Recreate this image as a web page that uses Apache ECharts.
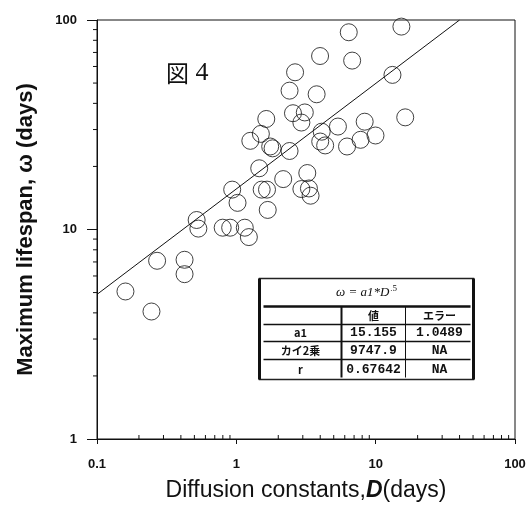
<!DOCTYPE html>
<html>
<head>
<meta charset="utf-8">
<script src="https://cdn.jsdelivr.net/npm/echarts@6/dist/echarts.min.js"></script>
<style>
html, body { margin: 0; padding: 0; background: #fff; }
#chart { width: 529px; height: 507px; }
</style>
</head>
<body>
<div id="chart"></div>
<script>
// 散布データ (D, ω)
var diffusionD = [0.16, 0.246, 0.27, 0.425, 0.425, 0.519, 0.534, 0.798, 0.903, 0.934, 1.02, 1.15,
    1.23, 1.26, 1.46, 1.50, 1.52, 1.66, 1.64, 1.68, 1.75, 1.82, 2.17, 2.41, 2.41, 2.55, 2.64,
    2.93, 2.93, 3.10, 3.23, 3.32, 3.41, 3.77, 3.99, 4.10, 4.0, 4.34, 5.36, 6.23, 6.41, 6.78,
    7.79, 8.34, 9.97, 13.2, 15.3, 16.3];
var lifespan = [5.06, 4.06, 7.09, 7.17, 6.12, 11.1, 10.1, 10.2, 10.2, 15.5, 13.4, 10.2,
    9.2, 26.5, 19.6, 28.6, 15.5, 15.5, 33.7, 12.4, 24.9, 24.4, 17.4, 46, 23.7, 35.9, 56.3,
    32.4, 15.6, 36.2, 18.6, 15.7, 14.5, 44.2, 67.3, 29.3, 26.3, 25.2, 31, 24.9, 87.4, 64,
    26.8, 32.7, 28.1, 54.7, 93, 34.3];

// フィット直線の端点
var fitD = [0.1, 40];
var fitW = [4.9, 100];

// 補助目盛
var xMinor = [0.2, 0.3, 0.4, 0.5, 0.6, 0.7, 0.8, 0.9, 2, 3, 4, 5, 6, 7, 8, 9, 20, 30, 40, 50, 60, 70, 80, 90];
var yMinor = [2, 3, 4, 5, 6, 7, 8, 9, 20, 30, 40, 50, 60, 70, 80, 90];

// 表の中身
var tableTitle = 'ω = a1*D';
var tableHead = ['', '値', 'エラー'];
var tableRows = [
    ['a1', '15.155', '1.0489'],
    ['カイ2乗', '9747.9', 'NA'],
    ['r', '0.67642', 'NA']
];

var chart = echarts.init(document.getElementById('chart'));

var scatterData = [];
for (let i = 0; i < diffusionD.length; i++) {
    scatterData.push([diffusionD[i], lifespan[i]]);
}
var fitData = [];
for (let i = 0; i < fitD.length; i++) {
    fitData.push([fitD[i], fitW[i]]);
}

// 表のgraphic
var colX = [41, 114, 180];
var rowY = [37, 54.5, 72, 91];
var tableChildren = [
    { type: 'rect', shape: { x: 0, y: 0, width: 214, height: 101 }, style: { fill: '#fff', stroke: '#222', lineWidth: 1.5 } },
    { type: 'line', shape: { x1: 0, y1: 0, x2: 0, y2: 101 }, style: { stroke: '#111', lineWidth: 3 } },
    { type: 'line', shape: { x1: 214, y1: 0, x2: 214, y2: 101 }, style: { stroke: '#111', lineWidth: 3 } },
    { type: 'line', shape: { x1: 4, y1: 28, x2: 211, y2: 28 }, style: { stroke: '#111', lineWidth: 2.5 } },
    { type: 'line', shape: { x1: 4, y1: 46, x2: 211, y2: 46 }, style: { stroke: '#111', lineWidth: 1.5 } },
    { type: 'line', shape: { x1: 4, y1: 63, x2: 211, y2: 63 }, style: { stroke: '#111', lineWidth: 1.5 } },
    { type: 'line', shape: { x1: 4, y1: 81, x2: 211, y2: 81 }, style: { stroke: '#111', lineWidth: 1.5 } },
    { type: 'line', shape: { x1: 82, y1: 28, x2: 82, y2: 99 }, style: { stroke: '#111', lineWidth: 2 } },
    { type: 'line', shape: { x1: 146, y1: 28, x2: 146, y2: 99 }, style: { stroke: '#111', lineWidth: 1 } },
    {
        type: 'text', x: 107, y: 14,
        style: {
            text: '{a|' + tableTitle + '}{s|.5}',
            align: 'center', verticalAlign: 'middle',
            rich: {
                a: { fontFamily: 'Liberation Serif', fontStyle: 'italic', fontSize: 13, fill: '#111' },
                s: { fontFamily: 'Liberation Serif', fontSize: 9, fill: '#111', verticalAlign: 'top', padding: [0, 0, 8, 1] }
            }
        }
    }
];
for (let c = 1; c < 3; c++) {
    tableChildren.push({
        type: 'text', x: colX[c], y: rowY[0],
        style: { text: tableHead[c], align: 'center', verticalAlign: 'middle', fontFamily: 'Noto Sans CJK JP', fontSize: 11, fontWeight: 'bold', fill: '#111' }
    });
}
for (let r = 0; r < tableRows.length; r++) {
    for (let c = 0; c < 3; c++) {
        tableChildren.push({
            type: 'text', x: colX[c], y: rowY[r + 1],
            style: {
                text: tableRows[r][c], align: 'center', verticalAlign: 'middle',
                fontFamily: c == 0 ? 'Noto Sans CJK JP' : 'Liberation Mono',
                fontSize: c == 0 ? 11 : 13, fontWeight: 'bold', fill: '#111'
            }
        });
    }
}

var option = {
    backgroundColor: '#fff',
    animation: false,
    grid: {
        left: 97, right: 14, top: 20, bottom: 68,
        show: true, borderColor: '#111', borderWidth: 1, backgroundColor: 'transparent'
    },
    xAxis: {
        type: 'log', logBase: 10, min: 0.1, max: 100,
        name: '{a|Diffusion constants,}{b|D}{a|(days)}',
        nameLocation: 'middle', nameGap: 40,
        nameTextStyle: {
            rich: {
                a: { fontFamily: 'Liberation Sans', fontSize: 23, color: '#111' },
                b: { fontFamily: 'Liberation Sans', fontSize: 23, fontWeight: 'bold', fontStyle: 'italic', color: '#111' }
            }
        },
        axisLine: { lineStyle: { color: '#111', width: 1 } },
        axisTick: { length: 5, lineStyle: { color: '#111' } },
        splitLine: { show: false },
        axisLabel: {
            margin: 19, color: '#111', fontFamily: 'Liberation Sans', fontWeight: 'bold', fontSize: 13,
            formatter: function (v) { return String(v); }
        }
    },
    yAxis: {
        type: 'log', logBase: 10, min: 1, max: 100,
        name: 'Maximum lifespan, ω (days)',
        nameLocation: 'middle', nameGap: 60,
        nameTextStyle: { fontFamily: 'Liberation Sans', fontWeight: 'bold', fontSize: 22, color: '#111' },
        axisLine: { lineStyle: { color: '#111', width: 1 } },
        axisTick: { length: 10, lineStyle: { color: '#111' } },
        splitLine: { show: false },
        axisLabel: {
            margin: 20, color: '#111', fontFamily: 'Liberation Sans', fontWeight: 'bold', fontSize: 13,
            formatter: function (v) { return String(v); }
        }
    },
    graphic: [
        {
            type: 'text', left: 166, top: 60,
            style: {
                text: '{a|図}{b| 4}',
                rich: {
                    a: { fontFamily: 'Noto Sans CJK JP', fontSize: 23, fill: '#111' },
                    b: { fontFamily: 'Liberation Serif', fontSize: 26, fill: '#111' }
                }
            }
        },
        { type: 'group', left: 257, top: 276, children: tableChildren }
    ],
    series: [
        {
            type: 'line',
            data: fitData,
            symbol: 'none',
            lineStyle: { color: '#111', width: 1 },
            z: 3
        },
        {
            type: 'scatter',
            data: scatterData,
            symbol: 'circle',
            symbolSize: 17,
            itemStyle: { color: 'rgba(0,0,0,0)', borderColor: '#111', borderWidth: 1 },
            z: 4
        },
        {
            // x軸の補助目盛
            type: 'custom',
            data: xMinor.map(function (v) { return [v, 1]; }),
            encode: { x: 0, y: 1 },
            clip: false,
            renderItem: function (params, api) {
                var p = api.coord([api.value(0), api.value(1)]);
                var bottom = params.coordSys.y + params.coordSys.height;
                return { type: 'line', shape: { x1: p[0], y1: bottom, x2: p[0], y2: bottom - 4 }, style: { stroke: '#111', lineWidth: 1 } };
            }
        },
        {
            // y軸の補助目盛
            type: 'custom',
            data: yMinor.map(function (v) { return [0.1, v]; }),
            encode: { x: 0, y: 1 },
            clip: false,
            renderItem: function (params, api) {
                var p = api.coord([api.value(0), api.value(1)]);
                var left = params.coordSys.x;
                return { type: 'line', shape: { x1: left - 4, y1: p[1], x2: left, y2: p[1] }, style: { stroke: '#111', lineWidth: 1 } };
            }
        }
    ]
};
chart.setOption(option);
</script>
</body>
</html>
